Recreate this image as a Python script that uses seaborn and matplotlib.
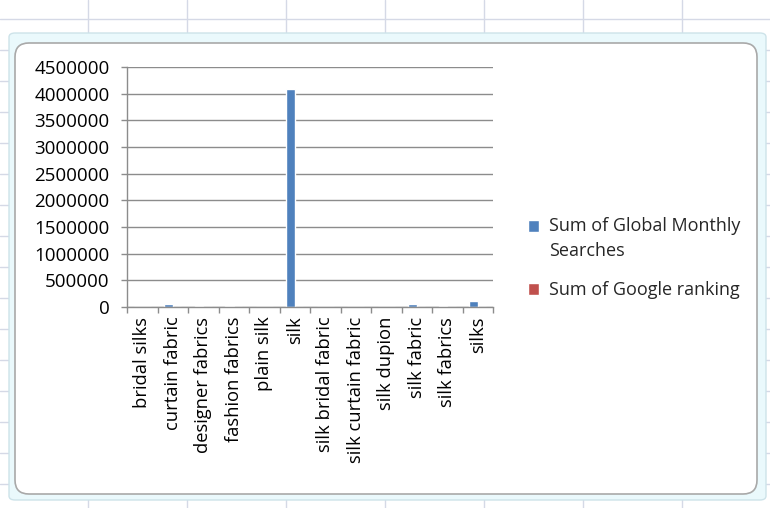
import matplotlib.pyplot as plt
import seaborn as sns
import pandas as pd
from matplotlib.patches import FancyBboxPatch
from matplotlib.lines import Line2D

categories = ['bridal silks', 'curtain fabric', 'designer fabrics', 'fashion fabrics',
              'plain silk', 'silk', 'silk bridal fabric', 'silk curtain fabric',
              'silk dupion', 'silk fabric', 'silk fabrics', 'silks']
global_searches = [1300, 60500, 9900, 14800, 1900, 4090000, 260, 1600, 2400, 60500, 18100, 110000]
google_ranking = [12, 8, 15, 20, 6, 3, 11, 9, 14, 5, 10, 4]
series_names = ['Sum of Global Monthly\nSearches', 'Sum of Google ranking']
y_ticks = list(range(0, 4500001, 500000))

df = pd.DataFrame({
    'keyword': categories * 2,
    'value': global_searches + google_ranking,
    'series': [series_names[0]] * len(categories) + [series_names[1]] * len(categories),
})

sns.set_theme(style='white')
plt.rcParams['font.family'] = ['Open Sans', 'DejaVu Sans']

W, H = 770, 508
fig = plt.figure(figsize=(W / 100, H / 100), dpi=100)
fig.patch.set_facecolor('white')

def px(x, y):
    return x / W, 1 - y / H

# spreadsheet cells behind the chart
grid_c = '#d5d9e6'
for gx in [88, 187, 286, 385, 484, 583, 682]:
    fig.add_artist(Line2D([gx / W, gx / W], [0, 1], color=grid_c, lw=1.0, zorder=0))
for gy in range(19, H, 31):
    fig.add_artist(Line2D([0, 1], [1 - gy / H, 1 - gy / H], color=grid_c, lw=1.0, zorder=0))

# selected chart frame
x0, y0 = px(9, 500)
x1, y1 = px(766, 33)
fig.add_artist(FancyBboxPatch((x0, y0), x1 - x0, y1 - y0, boxstyle='round,pad=0,rounding_size=0.008',
                              facecolor='#eaf9fc', edgecolor='#cde3e9', lw=1.0,
                              transform=fig.transFigure, zorder=1))
x0, y0 = px(15, 494)
x1, y1 = px(757, 43)
fig.add_artist(FancyBboxPatch((x0, y0), x1 - x0, y1 - y0, boxstyle='round,pad=0,rounding_size=0.018',
                              facecolor='white', edgecolor='#a9a9a9', lw=1.2,
                              transform=fig.transFigure, zorder=2,
                              mutation_aspect=W / H))

ax = fig.add_axes([127 / W, (H - 307) / H, 366 / W, 240 / H], zorder=3)
ax.set_facecolor('none')

sns.barplot(data=df, x='keyword', y='value', hue='series', order=categories,
            hue_order=series_names, palette=['#4f81bd', '#c0504d'],
            width=0.571, dodge=True, saturation=1, ax=ax, legend=True)

ax.set_ylim(0, 4500000)
ax.set_xlim(-0.5, len(categories) - 0.5)
ax.set_yticks(y_ticks)
ax.set_yticklabels([str(v) for v in y_ticks])
ax.yaxis.grid(True, color='#8c8c8c', lw=1.0)
ax.set_axisbelow(True)
ax.set_xlabel('')
ax.set_ylabel('')

for side in ['top', 'right']:
    ax.spines[side].set_visible(False)
for side in ['left', 'bottom']:
    ax.spines[side].set_color('#8c8c8c')
    ax.spines[side].set_linewidth(1.0)

ax.set_xticks(range(len(categories)))
ax.set_xticklabels(categories, rotation=90)
ax.set_xticks([i - 0.5 for i in range(len(categories) + 1)], minor=True)
ax.tick_params(axis='x', which='major', length=0, pad=7, labelsize=13.2, colors='black')
ax.tick_params(axis='x', which='minor', length=4.5, width=1.0, color='#8c8c8c', direction='out', bottom=True)
ax.tick_params(axis='y', which='major', length=4.5, width=1.0, color='#8c8c8c', direction='out',
               left=True, pad=8, labelsize=13.5, labelcolor='black')

leg = ax.legend(loc='upper left', bbox_to_anchor=px(521, 210), bbox_transform=fig.transFigure,
                frameon=False, fontsize=13, handlelength=0.6, handleheight=0.6,
                handletextpad=0.55, labelspacing=1.2, borderaxespad=0)
leg.get_texts()[0].set_linespacing(1.45)
# Excel puts the key square beside the first line of a wrapped label
h0 = leg.legend_handles[0]
h0.set_y(h0.get_y() + 9.5)

fig.savefig('out.png', dpi=100, facecolor='white')
